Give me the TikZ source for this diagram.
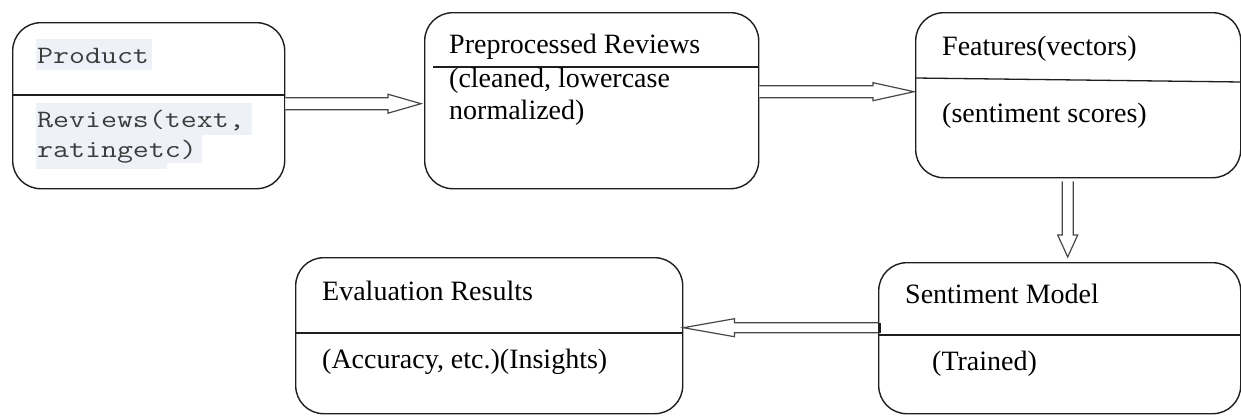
\documentclass[tikz,border=0pt]{standalone}
\usepackage{fontspec}
\usepackage{graphicx}
\setmainfont{Liberation Serif}
\usetikzlibrary{calc}

\definecolor{codebg}{HTML}{EEF2F8}
\definecolor{codefg}{HTML}{3C3C3C}
\definecolor{edge}{HTML}{1E1E1E}

\newcommand\widecode[1]{\scalebox{1.24}[1]{#1}}

\tikzset{
  box/.style={draw=edge, line width=1.4pt, rounded corners=28pt, anchor=north west, inner sep=0pt},
  sep/.style={draw=edge, line width=1.3pt},
  lbl/.style={anchor=base west, inner sep=0pt, font=\fontsize{28}{32}\selectfont},
  code/.style={anchor=base west, inner sep=0pt, text=codefg, font=\fontsize{25}{30}\ttfamily},
  conn/.style={draw=black!72, line width=1.2pt, line join=miter, fill=white},
  hl/.style={fill=codebg, draw=none}
}

% hollow block arrow: start, tip, shaft half-width, head half-width, head length
\newcommand\fatarrow[5]{%
  \coordinate (hb) at ($(#2)!#5!(#1)$);
  \draw[conn] ($(#1)!#3!90:(#2)$) -- ($(hb)!#3!90:(#2)$) -- ($(hb)!#4!90:(#2)$)
    -- (#2) -- ($(hb)!#4!-90:(#2)$) -- ($(hb)!#3!-90:(#2)$) -- ($(#1)!#3!-90:(#2)$);
}

\begin{document}
\begin{tikzpicture}[x=1pt, y=-1pt]
\useasboundingbox (0,0) rectangle (1241,415);
\clip (0,0) rectangle (1241,415);

% code highlights behind the input box text
\fill[hl] (36,39) rectangle (152,70);
\fill[hl] (36,103) rectangle (252,135);
\fill[hl] (36,135) rectangle (202,163);
\fill[hl] (36,163) rectangle (167,169);

% boxes
\node[box, minimum width=272pt, minimum height=166pt] (b1) at (12,22) {};
\node[box, minimum width=334pt, minimum height=176pt] (b2) at (424,12) {};
\node[box, minimum width=325pt, minimum height=165pt] (b3) at (915,12) {};
\node[box, minimum width=362pt, minimum height=151pt] (b4) at (878,262) {};
\node[box, minimum width=387pt, minimum height=156pt] (b5) at (295,257) {};

% compartment dividers
\draw[sep] ($(b1.north west)+(0,73)$) -- ($(b1.north east)+(0,73)$);
\draw[sep] ($(b2.north west)+(9,55)$) -- ($(b2.north east)+(0,55)$);
\draw[sep] ($(b3.north west)+(0,66)$) -- ($(b3.north east)+(0,70)$);
\draw[sep] ($(b4.north west)+(0,73)$) -- ($(b4.north east)+(0,73)$);
\draw[sep] ($(b5.north west)+(0,76)$) -- ($(b5.north east)+(0,76)$);

% labels
\node[code] (t1a) at (37,63) {\widecode{Product}};
\node[code] (t1b) at (37,127) {\widecode{Reviews(text,}};
\node[code] (t1c) at (37,157) {\widecode{ratingetc)}};

\node[lbl] (t2a) at (449,53) {Preprocessed Reviews};
\node[lbl] (t2b) at (449,87) {(cleaned, lowercase};
\node[lbl] (t2c) at (449,119) {normalized)};

\node[lbl] (t3a) at (942,55) {Features(vectors)};
\node[lbl] (t3b) at (942,122) {(sentiment scores)};

\node[lbl] (t4a) at (905,303) {Sentiment Model};
\node[lbl] (t4b) at (932,370) {(Trained)};

\node[lbl] (t5a) at (322,300) {Evaluation Results};
\node[lbl] (t5b) at (322,368) {(Accuracy, etc.)(Insights)};

% connector end points
\coordinate (a1s) at ($(b1.east)+(0,-2)$);
\coordinate (a1t) at ($(b2.west |- a1s)+(-3,0)$);
\coordinate (a2t) at ($(b3.west)+(-1,-3.5)$);
\coordinate (a2s) at (b2.east |- a2t);
\coordinate (a3s) at ($(b3.south)+(-10.5,3)$);
\coordinate (a3t) at ($(b4.north -| a3s)+(0,-5)$);
\coordinate (a4s) at ($(b4.west)+(1,-10.5)$);
\coordinate (a4t) at (b5.east |- a4s);

% connectors
\fatarrow{a1s}{a1t}{6pt}{9.5pt}{33pt}
\fatarrow{a2s}{a2t}{6pt}{9pt}{41pt}
\fatarrow{a3s}{a3t}{5.5pt}{10pt}{22pt}
\fatarrow{a4s}{a4t}{5pt}{9pt}{51pt}
\draw[edge, line width=3pt] ($(a4s)+(0,-5)$) -- ($(a4s)+(0,5)$);
\end{tikzpicture}
\end{document}
